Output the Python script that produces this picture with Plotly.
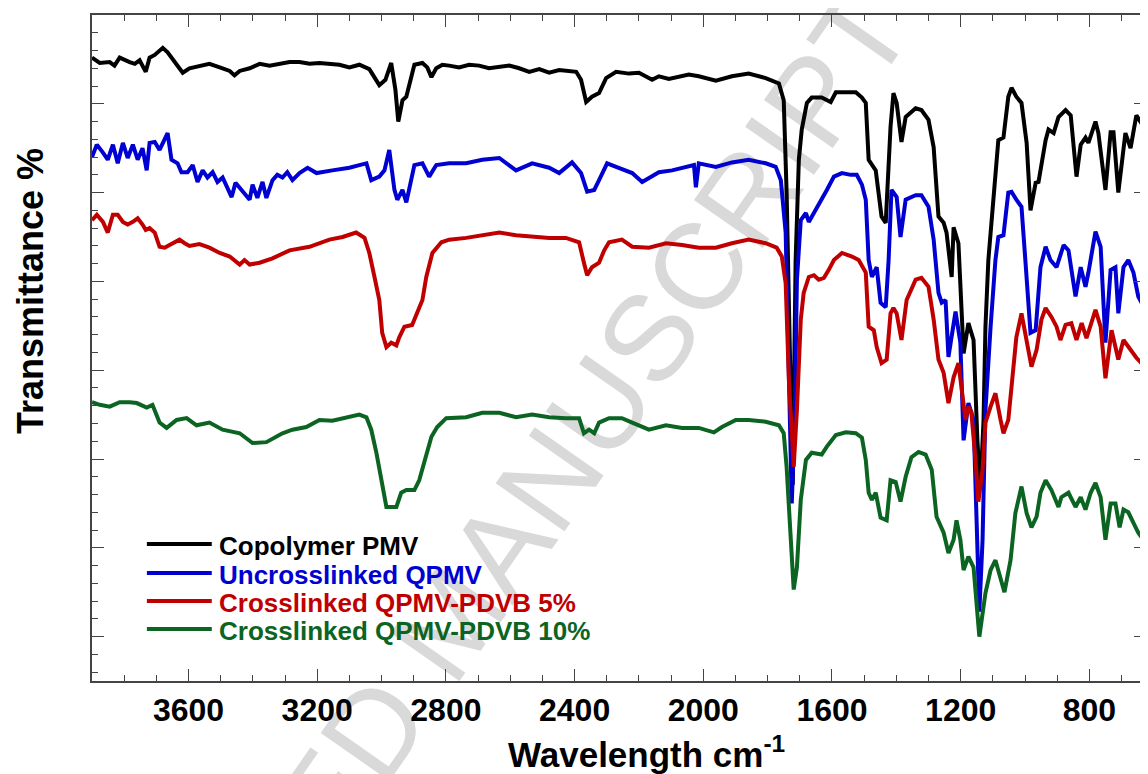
import plotly.graph_objects as go

# ---------------- data ----------------
series_names = ["Copolymer PMV", "Uncrosslinked QPMV",
                "Crosslinked QPMV-PDVB 5%", "Crosslinked QPMV-PDVB 10%"]
series_colors = ["#000000", "#0000d2", "#c00000", "#0b6421"]

pmv_wn = [3900, 3876, 3845, 3830, 3814, 3798, 3783, 3767, 3752, 3733, 3721, 3705, 3680, 3665, 3652,
          3628, 3618, 3597, 3566, 3535, 3503, 3472, 3457, 3441, 3410, 3379, 3348, 3317, 3286, 3255,
          3224, 3193, 3162, 3131, 3100, 3069, 3038, 3022, 3007, 2988, 2970, 2957, 2948, 2935, 2923,
          2898, 2873, 2858, 2845, 2830, 2811, 2790, 2759, 2728, 2697, 2666, 2634, 2603, 2572, 2541,
          2510, 2479, 2448, 2417, 2395, 2380, 2364,
          2346, 2324, 2302, 2271, 2231, 2200, 2159, 2138, 2107, 2076, 2045, 2014, 1961, 1911, 1859, 1806, 1765,
          1750, 1741, 1731, 1722, 1713, 1703, 1694, 1678, 1663, 1632, 1604, 1588, 1557, 1526, 1507,
          1495, 1486, 1464, 1446, 1433, 1418, 1409, 1399, 1384, 1371, 1340, 1322, 1300, 1284, 1269,
          1253, 1244, 1228, 1222, 1207, 1198, 1191, 1176, 1160, 1148, 1139, 1129, 1123, 1114, 1098,
          1083, 1067, 1052, 1042, 1027, 1011, 995, 983, 967, 958, 936, 927, 911, 896, 874,
          858, 840, 827, 812, 803, 781, 772, 750, 734, 725, 710, 688, 672, 654, 638, 623]
pmv_t = [95.2, 94.6, 94.7, 94.3, 95.2, 94.9, 94.7, 94.5, 94.9, 93.6, 95.2, 95.5, 96.3, 95.8, 95.2,
         94.0, 93.5, 94.0, 94.3, 94.5, 94.1, 93.7, 93.2, 93.7, 94.0, 94.5, 94.3, 94.5, 94.7, 94.7,
         94.5, 94.6, 94.5, 94.4, 94.1, 94.4, 93.9, 92.9, 92.1, 92.7, 94.6, 91.6, 88.0, 90.4, 90.8,
         94.4, 94.6, 94.1, 93.0, 94.0, 94.4, 94.3, 94.1, 94.4, 94.3, 94.0, 94.1, 94.3, 94.0, 93.6,
         93.9, 93.5, 93.8, 93.7, 93.6, 92.7, 90.2,
         90.8, 91.2, 92.9, 93.6, 93.4, 93.5, 92.7, 93.1, 92.8, 93.0, 93.3, 93.1, 92.6, 93.1, 93.4, 92.9, 92.3,
         90.4, 80.0, 62.3, 47.1, 72.4, 83.7, 87.1, 90.1, 90.7, 90.7, 90.2, 91.3, 91.3, 91.3, 90.7,
         90.1, 83.7, 82.5, 77.3, 76.6, 87.4, 91.2, 90.1, 85.7, 88.5, 89.5, 89.3, 88.2, 85.1, 77.3,
         76.6, 75.5, 70.5, 76.1, 74.3, 67.9, 61.9, 65.3, 63.4, 52.1, 46.5, 54.3, 64.9, 72.4, 79.2,
         85.9, 86.2, 90.8, 91.8, 90.8, 90.1, 85.6, 78.0, 81.1, 81.2, 85.9, 87.1, 86.7, 88.5, 89.3,
         88.7, 81.8, 85.4, 86.2, 85.6, 88.0, 86.7, 80.3, 86.8, 86.8, 80.0, 86.7, 85.0, 88.7, 87.8, 86.3]

qpmv_wn = [3900, 3885, 3866, 3851, 3835, 3820, 3804, 3789, 3773, 3758, 3743, 3730, 3721, 3705, 3690,
           3674, 3665, 3653, 3634, 3622, 3603, 3587, 3572, 3556, 3541, 3525, 3510, 3494, 3466, 3454,
           3441, 3410, 3401, 3386, 3370, 3358, 3339, 3324, 3308, 3293, 3277, 3255, 3230, 3202, 3153,
           3100, 3069, 3047, 3032, 3007, 2991, 2976, 2960, 2951, 2935, 2923, 2898, 2873, 2852, 2830,
           2790, 2737, 2687, 2634, 2582, 2532, 2479, 2448, 2408, 2380, 2361, 2339, 2324, 2299, 2271,
           2221, 2190, 2138, 2097, 2029, 2023, 2014, 1961, 1911, 1859, 1806, 1775, 1759, 1744, 1734,
           1725, 1716, 1709, 1697, 1681, 1672, 1656, 1635, 1616, 1594, 1569, 1542, 1523, 1507, 1495,
           1486, 1476, 1461, 1449, 1433, 1424, 1415, 1399, 1387, 1371, 1340, 1322, 1300, 1284, 1269,
           1259, 1247, 1238, 1216, 1201, 1191, 1176, 1160, 1148, 1142, 1132, 1123, 1107, 1092, 1083,
           1067, 1052, 1042, 1027, 1011, 999, 983, 967, 952, 936, 921, 902, 880, 865, 843,
           827, 812, 803, 781, 765, 756, 750, 734, 719, 710, 694, 679, 663, 648, 626]
qpmv_t = [84.0, 85.4, 84.5, 83.7, 85.4, 83.3, 85.6, 83.9, 85.4, 83.7, 85.0, 82.5, 85.6, 85.7, 84.8,
          85.9, 86.7, 83.7, 83.3, 82.3, 82.3, 83.1, 81.2, 82.5, 81.7, 82.3, 81.2, 81.7, 79.5, 81.1,
          80.5, 79.2, 80.9, 79.4, 81.2, 79.4, 81.4, 82.0, 81.7, 82.3, 81.4, 82.2, 82.8, 82.2, 82.5,
          82.8, 83.1, 83.3, 81.4, 81.8, 82.5, 84.8, 80.3, 79.2, 80.3, 78.9, 83.1, 83.3, 81.8, 83.1,
          83.3, 83.3, 83.7, 83.9, 82.5, 83.3, 82.8, 82.2, 83.4, 82.2, 80.1, 80.3, 81.4, 83.3, 82.9,
          82.2, 81.2, 82.3, 82.5, 83.1, 80.6, 83.3, 82.9, 83.4, 83.7, 83.3, 82.9, 81.4, 75.5, 58.9,
          45.0, 54.4, 70.2, 76.9, 77.7, 76.7, 77.7, 79.2, 80.3, 81.8, 82.2, 82.0, 82.0, 80.9, 79.2,
          72.4, 70.5, 71.6, 67.6, 67.1, 72.4, 80.3, 79.5, 75.0, 79.2, 79.7, 79.7, 78.4, 74.7, 68.7,
          67.6, 67.9, 61.5, 66.6, 63.1, 52.1, 56.3, 54.4, 40.9, 32.8, 40.9, 55.5, 64.9, 72.4, 75.0,
          75.2, 80.0, 80.1, 79.2, 78.4, 72.4, 64.2, 64.5, 71.6, 73.9, 72.4, 71.6, 74.1, 73.5, 68.3,
          71.6, 69.4, 71.0, 75.6, 73.9, 66.8, 63.1, 71.3, 71.6, 66.4, 71.6, 72.4, 71.0, 68.3, 66.8]

pdvb5_wn = [3900, 3885, 3866, 3851, 3835, 3820, 3804, 3789, 3773, 3758, 3743, 3733, 3721, 3705, 3690,
            3674, 3659, 3628, 3612, 3597, 3566, 3535, 3503, 3472, 3441, 3426, 3410, 3379, 3339, 3286,
            3224, 3162, 3121, 3079, 3053, 3038, 3022, 3007, 2998, 2985, 2970, 2954, 2945, 2929, 2905,
            2889, 2873, 2861, 2842, 2814, 2790, 2737, 2687, 2634, 2582, 2532, 2479, 2427, 2386, 2371,
            2361, 2346, 2324, 2308, 2293, 2253, 2221, 2169, 2116, 2066, 2014, 1961, 1911, 1859, 1806,
            1772, 1756, 1744, 1734, 1719, 1709, 1697, 1688, 1672, 1656, 1641, 1625, 1610, 1594, 1569,
            1538, 1517, 1501, 1495, 1486, 1470, 1461, 1446, 1430, 1418, 1409, 1399, 1384, 1368, 1340,
            1322, 1300, 1284, 1269, 1253, 1238, 1222, 1207, 1198, 1185, 1176, 1167, 1154, 1145, 1132,
            1123, 1107, 1092, 1076, 1067, 1052, 1036, 1027, 1011, 995, 980, 964, 949, 936, 918,
            902, 890, 874, 856, 840, 824, 809, 781, 765, 750, 731, 710, 694, 672, 654, 638, 623]
pdvb5_t = [76.9, 77.5, 76.7, 75.5, 77.5, 77.5, 76.7, 76.4, 76.7, 77.1, 76.4, 75.8, 76.0, 75.5, 73.9,
           73.8, 74.1, 74.7, 74.3, 74.0, 74.2, 73.8, 73.2, 72.8, 71.9, 72.4, 71.9, 72.1, 72.6, 73.5,
           73.9, 74.7, 75.0, 75.5, 74.9, 73.2, 70.5, 67.9, 64.2, 62.6, 63.1, 62.8, 63.7, 64.9, 65.1,
           66.4, 67.9, 70.5, 73.2, 74.4, 74.7, 74.9, 75.2, 75.5, 75.2, 75.0, 74.9, 74.9, 74.4, 72.1,
           70.7, 71.6, 72.1, 73.5, 74.4, 74.7, 73.9, 73.8, 74.3, 74.1, 73.8, 73.8, 74.3, 74.7, 74.3,
           73.8, 72.8, 69.8, 58.9, 49.1, 55.5, 65.7, 68.7, 70.5, 70.7, 70.2, 70.4, 71.3, 72.4, 73.2,
           72.8, 72.4, 71.3, 71.0, 64.9, 64.5, 62.6, 60.8, 61.2, 66.4, 67.0, 66.4, 63.4, 67.9, 70.2,
           70.4, 69.4, 65.7, 61.2, 59.7, 56.3, 59.2, 60.8, 58.1, 54.4, 55.9, 55.3, 49.9, 45.2, 48.8,
           54.1, 55.9, 57.4, 54.4, 52.9, 54.4, 60.0, 63.7, 66.4, 63.4, 60.4, 62.3, 65.7, 67.0, 66.0,
           64.9, 63.4, 65.1, 65.3, 63.4, 65.3, 63.6, 66.8, 64.9, 59.1, 64.5, 61.2, 63.4, 62.3, 61.4, 60.8, 58.6]

pdvb10_wn = [3900, 3876, 3845, 3814, 3783, 3761, 3730, 3712, 3690, 3668, 3637, 3606, 3575, 3535, 3494,
             3441, 3401, 3358, 3308, 3277, 3234, 3193, 3153, 3109, 3069, 3047, 3032, 3016, 3001, 2985,
             2954, 2939, 2923, 2898, 2883, 2867, 2845, 2827, 2799, 2737, 2687, 2634, 2582, 2532, 2479,
             2427, 2386, 2371, 2355, 2339, 2324, 2293, 2253, 2221, 2169, 2116, 2066, 2014, 1967, 1942,
             1899, 1859, 1806, 1765, 1750, 1741, 1728, 1719, 1709, 1697, 1681, 1663, 1632, 1616, 1588,
             1557, 1526, 1507, 1495, 1486, 1476, 1464, 1449, 1430, 1418, 1402, 1387, 1371, 1353, 1331,
             1309, 1290, 1275, 1253, 1238, 1222, 1213, 1201, 1191, 1176, 1160, 1142, 1123, 1107, 1092,
             1076, 1064, 1045, 1030, 1011, 995, 980, 964, 952, 936, 918, 896, 887, 865, 843,
             827, 812, 796, 781, 765, 750, 734, 719, 706, 694, 679, 663, 648, 632, 623]
pdvb10_t = [56.4, 56.1, 55.9, 56.4, 56.4, 56.3, 55.8, 56.1, 54.1, 53.5, 54.4, 54.6, 53.8, 54.1, 53.3,
            52.9, 51.8, 51.9, 52.9, 53.3, 53.6, 54.4, 54.3, 54.7, 55.0, 54.7, 53.3, 50.7, 47.6, 44.6,
            44.6, 46.2, 46.5, 46.5, 47.6, 49.6, 52.5, 53.6, 54.6, 54.7, 55.2, 55.2, 54.7, 55.0, 54.7,
            54.6, 54.6, 52.9, 53.3, 52.9, 54.1, 54.6, 54.6, 54.1, 53.3, 53.8, 53.5, 53.5, 53.0, 53.6,
            54.4, 54.4, 54.2, 53.8, 52.9, 49.1, 41.7, 35.3, 37.8, 45.4, 49.9, 50.7, 50.5, 51.4, 52.7,
            53.0, 52.9, 52.4, 49.9, 46.2, 45.4, 46.2, 43.4, 43.1, 47.6, 47.4, 45.2, 48.0, 50.2, 50.8,
            50.5, 48.8, 43.5, 41.7, 39.4, 40.9, 43.1, 40.9, 37.5, 39.0, 37.8, 30.0, 34.9, 37.5, 38.6,
            36.4, 35.0, 38.6, 43.9, 46.9, 43.9, 42.3, 43.5, 46.2, 47.6, 46.5, 44.6, 45.7, 46.2, 44.6,
            45.7, 44.3, 46.2, 47.3, 45.7, 40.9, 45.0, 45.0, 42.3, 44.3, 44.0, 42.8, 41.7, 40.9, 39.0]

x_title = "Wavelength cm<sup>-1</sup>"
y_title = "Transmittance %"
watermark = "ACCEPTED MANUSCRIPT"

# ---------------- figure ----------------
# the page body has an 8 px margin, so the figure is placed 8 px in from the window corner;
# the layout positions below are written in window pixels and shifted by OFF.
OFF = 8
W, H = 1148 - OFF, 774 - OFF
ML, MR, MT, MB = 92 - OFF, 0, 15 - OFF, 774 - 681
PW, PH = W - ML - MR, H - MT - MB


def px(xs):
    return (xs - OFF - ML) / PW


def py(ys):
    return (H - MB - (ys - OFF)) / PH


FONT = "Liberation Sans, Arial, sans-serif"
fig = go.Figure()
xs = [pmv_wn, qpmv_wn, pdvb5_wn, pdvb10_wn]
ys = [pmv_t, qpmv_t, pdvb5_t, pdvb10_t]
for name, col, x, y in zip(series_names, series_colors, xs, ys):
    fig.add_trace(go.Scatter(x=x, y=y, mode="lines", name=name,
                             line=dict(color=col, width=4), showlegend=False))

axis_common = dict(showline=True, linecolor="#444444", linewidth=1.5, mirror="ticks",
                   ticks="inside", tickcolor="#444444", tickwidth=1.3, ticklen=12,
                   showgrid=False, zeroline=False)

fig.update_xaxes(range=[3900, 624], tick0=0, dtick=400,
                 tickfont=dict(family=FONT, size=32, color="black", weight="bold"),
                 minor=dict(ticks="inside", dtick=100, ticklen=6, tickcolor="#444444", tickwidth=1.2),
                 **axis_common)
fig.update_yaxes(range=[25, 100], tick0=0, dtick=10, showticklabels=False,
                 minor=dict(ticks="inside", dtick=2, ticklen=6, tickcolor="#444444", tickwidth=1.2),
                 **axis_common)

annotations = [
    dict(text="<b>" + x_title + "</b>", x=px(648), y=py(752), xref="paper", yref="paper",
         showarrow=False, xanchor="center", yanchor="middle",
         font=dict(family=FONT, size=35, color="black")),
    dict(text="<b>" + y_title + "</b>", x=px(30), y=py(291), xref="paper", yref="paper",
         showarrow=False, xanchor="center", yanchor="middle", textangle=-90,
         font=dict(family=FONT, size=36, color="black")),
]
# watermark, centred on (497, 656) along a -55 degree line
shapes = [
    dict(type="line", xref="paper", yref="paper", x0=px(440), y0=py(738), x1=px(554), y1=py(574),
         line=dict(color="rgba(0,0,0,0)", width=0), layer="below",
         label=dict(text=watermark, textangle=-55, textposition="middle",
                    font=dict(family=FONT, size=122, color="#d9d9d9"))),
]
leg_y = [544, 573, 601, 629]
for name, col, yy in zip(series_names, series_colors, leg_y):
    shapes.append(dict(type="line", xref="paper", yref="paper", x0=px(147), x1=px(212),
                       y0=py(yy), y1=py(yy), line=dict(color=col, width=4)))
    annotations.append(dict(text="<b>" + name + "</b>", x=px(217), y=py(yy + 2), xref="paper",
                            yref="paper", showarrow=False, xanchor="left", yanchor="middle",
                            font=dict(family=FONT, size=26, color=col)))

fig.update_layout(width=W, height=H, margin=dict(l=ML, r=MR, t=MT, b=MB),
                  paper_bgcolor="white", plot_bgcolor="rgba(0,0,0,0)",
                  annotations=annotations, shapes=shapes, showlegend=False)

fig.write_html("out.html")
